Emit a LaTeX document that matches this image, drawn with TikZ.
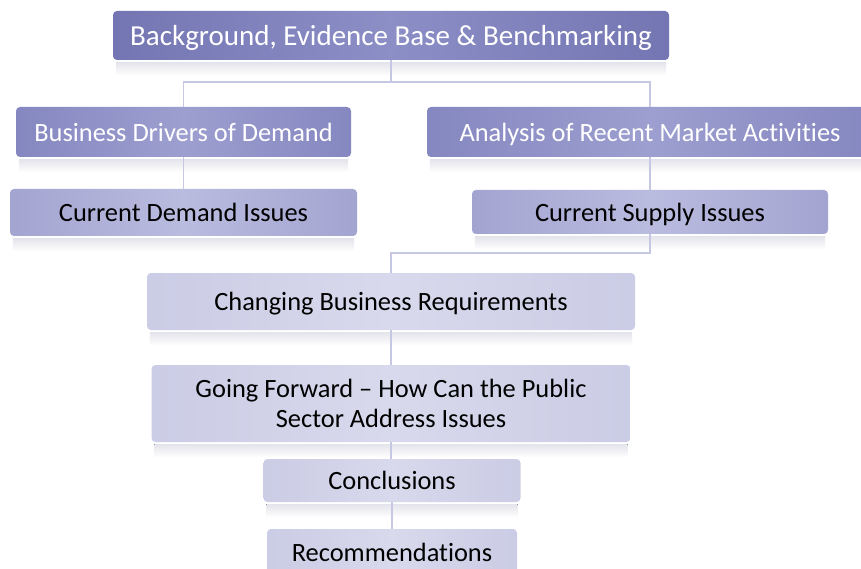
\documentclass[tikz,border=0pt]{standalone}
\usepackage{fontspec}
\setmainfont{Carlito}[Ligatures={NoCommon}]
\usetikzlibrary{calc}
\definecolor{cAedge}{HTML}{7476B3}
\definecolor{cAmid}{HTML}{8C8EC6}
\definecolor{cBedge}{HTML}{8587C0}
\definecolor{cBmid}{HTML}{9D9FD0}
\definecolor{cCedge}{HTML}{A3A5D1}
\definecolor{cCmid}{HTML}{B9BBDF}
\definecolor{cDedge}{HTML}{CBCCE5}
\definecolor{cDmid}{HTML}{D8D9EC}
\definecolor{linec}{HTML}{C6C7E2}
\definecolor{reflc}{HTML}{E3E3EB}
\tikzset{
  box/.style={rectangle, rounded corners=4pt, inner sep=2pt, align=center, text depth=0pt},
  lvlA/.style={box, left color=cAedge, right color=cAedge, middle color=cAmid, text=white, font=\fontsize{29}{34}\selectfont},
  lvlB/.style={box, left color=cBedge, right color=cBedge, middle color=cBmid, text=white, font=\fontsize{26.4}{30}\selectfont},
  lvlC/.style={box, left color=cCedge, right color=cCedge, middle color=cCmid, text=black, font=\fontsize{26.4}{30}\selectfont},
  lvlD/.style={box, left color=cDedge, right color=cDedge, middle color=cDmid, text=black, font=\fontsize{26.4}{30}\selectfont},
  conn/.style={draw=linec, line width=1.8pt},
  refl/.style={top color=reflc, bottom color=white, draw=none}
}
\begin{document}
\begin{tikzpicture}[x=1pt,y=-1pt]
\useasboundingbox (0,0) rectangle (861,569);
\clip (0,0) rectangle (861,569);
\fill[white] (0,0) rectangle (861,569);
% nodes
\node[lvlA, minimum width=556pt, minimum height=49pt] (top) at (391,35.5) {Background, Evidence Base \& Benchmarking};
\node[lvlB, minimum width=335pt, minimum height=50pt] (bd) at (183.5,132) {Business Drivers of Demand};
\node[lvlB, minimum width=446pt, minimum height=50pt] (an) at (650,132) {Analysis of Recent Market Activities};
\node[lvlC, minimum width=347pt, minimum height=47pt] (cd) at (183.5,212.5) {Current Demand Issues};
\node[lvlC, minimum width=356pt, minimum height=44pt] (cs) at (650,212) {Current Supply Issues};
\node[lvlD, minimum width=488pt, minimum height=57pt] (cbr) at (391,301.5) {Changing Business Requirements};
\node[lvlD, minimum width=479pt, minimum height=77pt] (gf) at (391,403.5) {Going Forward – How Can the Public\\Sector Address Issues};
\node[lvlD, minimum width=257pt, minimum height=43pt] (con) at (392,480.5) {Conclusions};
\node[lvlD, minimum width=250pt, minimum height=46pt] (rec) at (392,552) {Recommendations};
% reflections
\foreach \n in {top,bd,an,cd,cs,cbr,gf,con}{
  \fill[refl] ($(\n.south west)+(3pt,-2pt)$) rectangle ($(\n.south east)+(-3pt,-15pt)$);
}
% connectors
\coordinate (j1) at (391,82);
\coordinate (j2) at (391,253);
\draw[conn] (top.south) -- (j1);
\draw[conn] (bd.north) |- (j1) -| (an.north);
\draw[conn] (bd.south) -- (cd.north);
\draw[conn] (an.south) -- (cs.north);
\draw[conn] (cs.south) |- (j2) -- (cbr.north);
\draw[conn] (cbr.south) -- (gf.north);
\draw[conn] (gf.south) -- (gf.south |- con.north);
\draw[conn] (con.south) -- (rec.north);
\end{tikzpicture}
\end{document}
